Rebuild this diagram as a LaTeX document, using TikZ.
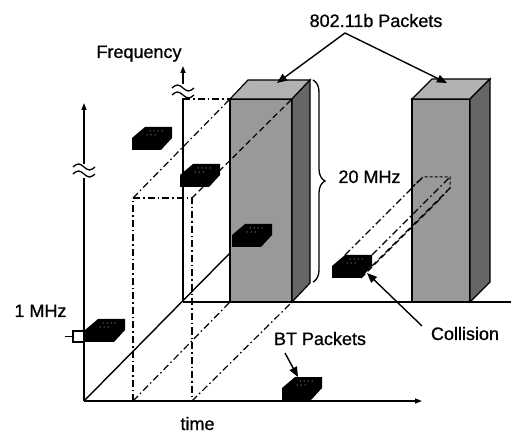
\documentclass[tikz,border=0pt]{standalone}
\usepackage{fontspec}
\setmainfont{Liberation Sans}[FakeBold=0.8]
\usetikzlibrary{arrows.meta,decorations.pathreplacing}
\begin{document}
\begin{tikzpicture}[x=1pt,y=-1pt,
  axis/.style={line width=1.4pt},
  axisarrow/.style={-{Triangle[length=7pt,width=5pt]}},
  dashdot/.style={line width=1.2pt,dash pattern=on 7pt off 3pt on 1.5pt off 3pt},
  dashedline/.style={line width=1.2pt,dash pattern=on 6pt off 3.5pt},
  wavy/.style={line width=1.3pt},
  lbl/.style={font=\fontsize{18}{20}\selectfont,inner sep=0pt,anchor=base},
  pointer/.style={line width=1.4pt,-{Triangle[length=10pt,width=8pt]}},
  frontface/.style={fill=black!40,draw=black,line width=1.2pt},
  topface/.style={fill=black!30,draw=black,line width=1.2pt},
  sideface/.style={fill=black!60,draw=black,line width=1.2pt},
  btpkt/.pic={
    \fill[black] (0,0) -- (0,-12) -- (13,-23) -- (40,-23) -- (40,-12) -- (29,0) -- cycle;
    \foreach \p in {(18,-19),(22,-19),(26,-19),(30,-19),(15,-15),(19,-15),(23,-15)}
      \fill[white] \p circle (0.5);
  }]
\useasboundingbox (0,0) rectangle (511,435);

% ---- coordinates
\coordinate (O) at (84,401);
\coordinate (tEnd) at (422,401);
\coordinate (fTop) at (84,103);
\coordinate (fGapLo) at (84,178);
\coordinate (fGapHi) at (84,164);
\coordinate (B) at (183,302);
\coordinate (bTop) at (183,66);
\coordinate (bGapLo) at (183,98);
\coordinate (bGapHi) at (183,84);
\coordinate (R) at (511,302);
\coordinate (diagEnd) at (230,253);
\coordinate (t1) at (133,401);
\coordinate (t2) at (192,401);
\coordinate (r1) at (133,198);
\coordinate (r2) at (192,198);
\coordinate (bf) at (183,99);
% block 1
\coordinate (k1) at (230,99);
\coordinate (k2) at (292,99);
\coordinate (k3) at (230,302);
\coordinate (k4) at (292,302);
\coordinate (k5) at (248,80);
\coordinate (k6) at (310,80);
\coordinate (k7) at (310,283);
% block 2
\coordinate (m1) at (412,99);
\coordinate (m2) at (470,99);
\coordinate (m3) at (412,302);
\coordinate (m4) at (470,302);
\coordinate (m5) at (432,79);
\coordinate (m6) at (490,79);
\coordinate (m7) at (490,282);

% ---- axes
\draw[axis] (O) -- (fGapLo);
\draw[axis,axisarrow] (fGapHi) -- (fTop);
\draw[axis,axisarrow] (O) -- (tEnd);
\draw[axis] (B) -- (bGapLo);
\draw[axis,axisarrow] (bGapHi) -- (bTop);
\draw[axis] (B) -- (R);
\draw[axis] (O) -- (diagEnd);

% break marks
\coordinate (w1) at (73,167);
\coordinate (w2) at (73,174);
\coordinate (w3) at (172,88);
\coordinate (w4) at (172,95);
\foreach \w in {w1,w2,w3,w4}
  \draw[wavy] (\w) sin ++(5.5,-3) cos ++(5.5,3) sin ++(5.5,3) cos ++(5.5,-3);

% ---- projection lines of block 1
\draw[dashdot] (t1) -- (r1) -- (r2) -- (t2);
\draw[dashdot] (r1) -- (k1);
\draw[dashdot] (bf) -- (k1);
\draw[dashdot] (t1) -- (k3);
\draw[dashdot] (t2) -- (k4);

% ---- 802.11b blocks
\draw[frontface] (k1) -- (k2) -- (k4) -- (k3) -- cycle;
\draw[topface] (k1) -- (k5) -- (k6) -- (k2) -- cycle;
\draw[sideface] (k2) -- (k6) -- (k7) -- (k4) -- cycle;
\draw[frontface] (m1) -- (m2) -- (m4) -- (m3) -- cycle;
\draw[topface] (m1) -- (m5) -- (m6) -- (m2) -- cycle;
\draw[sideface] (m2) -- (m6) -- (m7) -- (m4) -- cycle;
\draw[axis] (B) -- (R);

\draw[dashedline] (r2) -- (k2);

% ---- BT packets
\pic (pk1) at (132,150) {btpkt};
\pic (pk2) at (180,187) {btpkt};
\pic (pk3) at (232,247) {btpkt};
\pic (pk4) at (85,342) {btpkt};
\pic (pk5) at (332,278) {btpkt};
\pic (pk6) at (282,400) {btpkt};

% 1 MHz bracket
\coordinate (q1) at (85,331);
\coordinate (q2) at (73,331);
\coordinate (q3) at (73,342);
\coordinate (q4) at (85,342);
\coordinate (q5) at (65,336.5);
\coordinate (q6) at (73,336.5);
\draw[line width=1.1pt] (q1) -- (q2) -- (q3) -- (q4);
\draw[line width=1.1pt] (q5) -- (q6);

% ---- collision projection
\coordinate (c1) at (345,255);
\coordinate (c2) at (372,255);
\coordinate (c3) at (372,266);
\coordinate (c4) at (361,278);
\coordinate (d1) at (423,177);
\coordinate (d2) at (450,177);
\coordinate (d3) at (450,188);
\coordinate (d4) at (439,200);
\coordinate (d0) at (413,186);
\draw[dashdot] (c1) -- (d1);
\draw[dashdot] (c2) -- (d2);
\draw[dashedline] (c3) -- (d3);
\draw[dashedline] (c4) -- (d4);
\draw[line width=1pt,densely dashed] (d0) -- (d1) -- (d2) -- (d3) -- (d4);

% ---- brace
\coordinate (br1) at (313,80);
\coordinate (br2) at (313,282);
\draw[line width=1.3pt,decorate,decoration={brace,amplitude=12pt}] (br1) -- (br2);

% ---- labels
\node[lbl] (lp) at (376,27) {802.11b Packets};
\node[lbl] (lf) at (139,58) {Frequency};
\node[lbl] (l20) at (369.5,183) {20 MHz};
\node[lbl] (l1) at (40.5,317) {1 MHz};
\node[lbl] (lt) at (197.5,430) {time};
\node[lbl] (lbt) at (320,345) {BT Packets};
\node[lbl] (lc) at (465,340) {Collision};

% ---- pointers
\coordinate (apex) at (345,33);
\coordinate (a1) at (277,83);
\coordinate (a2) at (447,83);
\draw[pointer] (apex) -- (a1);
\draw[pointer] (apex) -- (a2);
\coordinate (bts) at (285,353);
\coordinate (bte) at (298,377);
\draw[pointer] (bts) -- (bte);
\coordinate (cs) at (422,326);
\coordinate (ce) at (367,273);
\draw[pointer] (cs) -- (ce);
\end{tikzpicture}
\end{document}
